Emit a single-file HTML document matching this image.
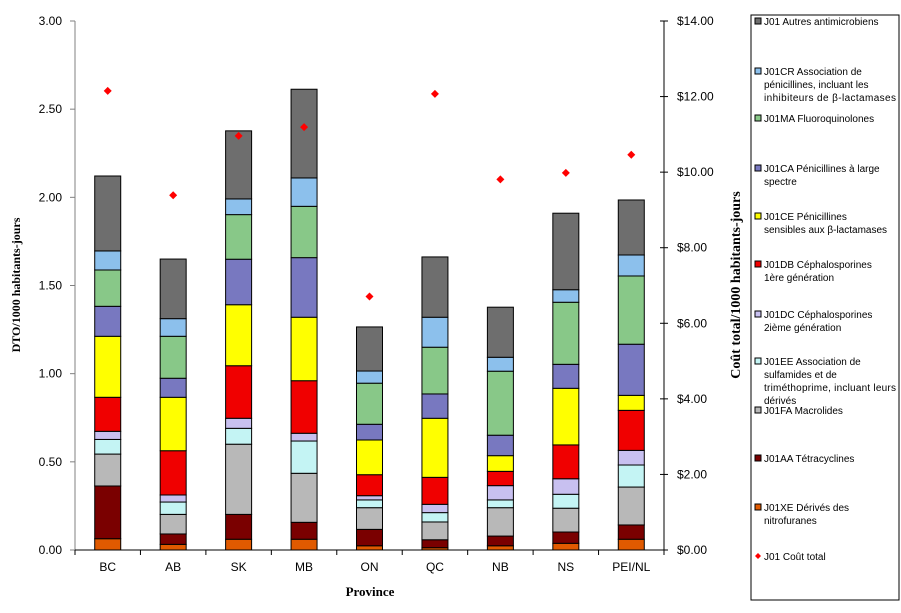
<!DOCTYPE html>
<html><head><meta charset="utf-8"><style>
body{margin:0;background:#fff;}
svg{display:block;font-family:"Liberation Sans",sans-serif;}
</style></head><body>
<svg id="c" width="901" height="613"></svg>
<script>
const categories=["BC","AB","SK","MB","ON","QC","NB","NS","PEI/NL"];
const sXE=[.064,.032,.061,.061,.024,.013,.024,.038,.061];
const sAA=[.299,.059,.141,.096,.093,.045,.055,.064,.081];
const sFA=[.181,.111,.398,.278,.123,.101,.161,.135,.215];
const sEE=[.083,.070,.090,.183,.044,.053,.044,.079,.125];
const sDC=[.046,.040,.057,.044,.024,.047,.081,.088,.083];
const sDB=[.193,.251,.298,.298,.119,.153,.081,.192,.227];
const sCE=[.346,.303,.346,.360,.197,.335,.089,.321,.085];
const sCA=[.170,.108,.258,.338,.089,.138,.116,.136,.290];
const sMA=[.206,.238,.253,.291,.233,.265,.363,.352,.387];
const sCR=[.108,.100,.089,.161,.069,.170,.079,.071,.119];
const sAutres=[.425,.338,.386,.503,.250,.342,.284,.434,.312];
const cost=[12.15,9.39,10.96,11.19,6.71,12.07,9.81,9.98,10.46];
const leftTicks=["0.00","0.50","1.00","1.50","2.00","2.50","3.00"];
const rightTicks=["$0.00","$2.00","$4.00","$6.00","$8.00","$10.00","$12.00","$14.00"];
const seriesNames=["J01XE","J01AA","J01FA","J01EE","J01DC","J01DB","J01CE","J01CA","J01MA","J01CR","J01Autres"];
const series=[sXE,sAA,sFA,sEE,sDC,sDB,sCE,sCA,sMA,sCR,sAutres];
const colors=["#e05a00","#7a0000","#b8b8b8","#c4f4f4","#c8c0f0","#f00000","#ffff00","#7878c0","#88c888","#8cc0ec","#6e6e6e"];

const svg=document.getElementById('c');
const NS='http://www.w3.org/2000/svg';
function mk(t,a,p){const e=document.createElementNS(NS,t);for(const k in a)e.setAttribute(k,a[k]);(p||svg).appendChild(e);return e;}
const X0=75,X1=664,Y0=550,Y1=21;
const yL=v=>Y0-(v/3)*(Y0-Y1);
const yR=v=>Y0-(v/14)*(Y0-Y1);
const band=(X1-X0)/categories.length;
const xC=i=>X0+band*(i+0.5);

let e=mk('line',{x1:X0,y1:Y1,x2:X0,y2:Y0,stroke:'#808080'});

e=mk('line',{x1:X1,y1:Y1,x2:X1,y2:Y0,stroke:'#000'});

e=mk('line',{x1:X0,y1:Y0,x2:X1,y2:Y0,stroke:'#000'});

leftTicks.forEach((t,i)=>{const y=yL(i*0.5);
 mk('line',{x1:X0-5,y1:y,x2:X0,y2:y,stroke:'#808080'});
 const tx=mk('text',{x:62,y:y+4,'text-anchor':'end','font-size':12});tx.textContent=t;
 });
rightTicks.forEach((t,i)=>{const y=yR(i*2);
 mk('line',{x1:X1-4,y1:y,x2:X1+4,y2:y,stroke:'#000'});
 const tx=mk('text',{x:677,y:y+4,'font-size':12});tx.textContent=t;
 });
for(let i=0;i<=categories.length;i++){const x=X0+band*i;mk('line',{x1:x,y1:Y0,x2:x,y2:Y0+5,stroke:'#000'});}
categories.forEach((c,i)=>{const tx=mk('text',{x:xC(i),y:571,'text-anchor':'middle','font-size':12});tx.textContent=c;
 });

categories.forEach((c,i)=>{let cum=0;
 series.forEach((s,k)=>{const y1=yL(cum),y2=yL(cum+s[i]);cum+=s[i];
  const r=mk('rect',{x:xC(i)-13,y:y2,width:26,height:y1-y2,fill:colors[k],stroke:'#000','stroke-width':1});
  
  });});
cost.forEach((v,i)=>{const x=xC(i),y=yR(v);
 const p=mk('polygon',{points:`${x},${y-4} ${x+4},${y} ${x},${y+4} ${x-4},${y}`,fill:'#f00'});
 });

e=mk('text',{x:0,y:0,transform:'translate(20,285) rotate(-90)','text-anchor':'middle','font-size':12,'font-weight':'bold','font-family':'Liberation Serif,serif'});e.textContent='DTO/1000 habitants-jours';

e=mk('text',{x:0,y:0,transform:'translate(740,285) rotate(-90)','text-anchor':'middle','font-size':14,'font-weight':'bold','font-family':'Liberation Serif,serif'});e.textContent='Coût total/1000 habitants-jours';

e=mk('text',{x:370,y:596,'text-anchor':'middle','font-size':13,'font-weight':'bold','font-family':'Liberation Serif,serif'});e.textContent='Province';


const lg=mk('g',{});
mk('rect',{x:751,y:15,width:148,height:585,fill:'#fff',stroke:'#000'},lg);
const legendItems=[
 [10,22,["J01 Autres antimicrobiens"]],
 [9,72,["J01CR  Association de","pénicillines, incluant les","inhibiteurs de β-lactamases"]],
 [8,119,["J01MA Fluoroquinolones"]],
 [7,169,["J01CA Pénicillines à large","spectre"]],
 [6,217,["J01CE  Pénicillines","sensibles aux β-lactamases"]],
 [5,265,["J01DB Céphalosporines","1ère génération"]],
 [4,315,["J01DC Céphalosporines","2ième génération"]],
 [3,362,["J01EE  Association de","sulfamides et de","triméthoprime, incluant leurs","dérivés"]],
 [2,411,["J01FA Macrolides"]],
 [1,459,["J01AA Tétracyclines"]],
 [0,508,["J01XE Dérivés des","nitrofuranes"]],
 [-1,557,["J01 Coût total"]]];
legendItems.forEach(([k,y,lines])=>{
 const g=mk('g',{},lg);
 if(k>=0)mk('rect',{x:755,y:y-4,width:6,height:6,fill:colors[k],stroke:'#000'},g);
 else mk('polygon',{points:`758,${y-4} 761,${y-1} 758,${y+2} 755,${y-1}`,fill:'#f00'},g);
 lines.forEach((l,j)=>{const t=mk('text',{x:764,y:y+3+j*13,'font-size':10,textLength:l.length>26?132:undefined},g);if(l.length<=26)t.removeAttribute('textLength');t.textContent=l;});});
</script>
</body></html>
